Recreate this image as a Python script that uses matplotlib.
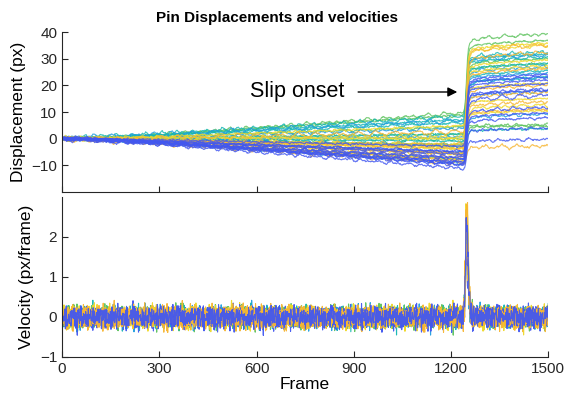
import numpy as np
import matplotlib
matplotlib.use('Agg')
import matplotlib.pyplot as plt

plt.rcParams['font.family'] = ['Liberation Sans', 'DejaVu Sans']

# Colour families seen in the traces (parula-like)
palette = {
    'B': '#4257f0',
    'S': '#1f9de0',
    'T': '#13b6b3',
    'G': '#5cc25c',
    'Y': '#efd92a',
    'O': '#f7b632',
}

# Per-pin values: colour, displacement just before slip
# (frame ~1240) and final displacement (frame 1500), in px
pin_colors = (['G'] * 6 + ['T'] * 7 + ['S'] * 6 + ['Y'] * 8 + ['O'] * 8
              + ['B'] * 12)
pre_slip = [10, 9, 4.5, 1.5, 0, -2,
            8, 7, 6, 2, -1, -3.5, -7.5,
            6.5, 4, 1, -2.5, -5, -9.5,
            5, 0.5, -0.5, -2, -3, -4, -6, -8,
            3, -1.5, -4, -5.5, -6, -7, -8.5, -9,
            -3, -4.5, -5, -6, -6.5, -7, -8, -8.5, -9, -10, -10.5, -11]
final = [39.5, 37, 30, 28, 5.5, 5,
         32, 31.5, 30.5, 28.5, 25.5, 22.5, 4,
         31, 27, 25, 23, 18, 9,
         36, 35, 29, 27.5, 21, 15, 12.5, 10.5,
         35.5, 33, 26, 20, 17, 14, 11, -2.5,
         24, 23.5, 22, 20.5, 19, 18.5, 16.5, 12, 9.5, 7.5, 3.5, 0]

# Pins whose velocity is drawn in the lower panel, in drawing order
vel_pins = [3, 14, 8, 0, 19, 44, 33, 20, 40, 29, 27, 36]

# Common shape of the trajectories (fraction of drift / fraction of jump)
drift_frames = [0, 50, 300, 900, 1240]
drift_frac = [0, 0, 0.18, 0.7, 1]
jump_frames = [0, 1238, 1242, 1245, 1248, 1251, 1254, 1258, 1265, 1300,
               1400, 1500]
jump_frac = [0, 0, 0.05, 0.17, 0.42, 0.67, 0.82, 0.89, 0.92, 0.95, 0.98, 1.0]

# Frame-to-frame velocity jitter of the tracked pins (px/frame), a sample
jitter = [0.12, -0.08, 0.17, -0.15, 0.03, 0.09, -0.19, 0.06, -0.02, 0.14,
          -0.11, 0.2, -0.05, -0.16, 0.08, 0.01, -0.09, 0.28, -0.13, 0.04,
          0.11, -0.2, 0.07, -0.03, 0.15, -0.07, -0.12, 0.1, 0.02, -0.17,
          0.13, -0.04, 0.19, -0.1, 0.05, -0.14, 0.0, 0.16, -0.3, 0.09,
          -0.06, 0.12, -0.01, -0.15, 0.07, 0.14, -0.09, 0.03, -0.12, 0.18,
          -0.07, 0.1, -0.16, 0.04, 0.08, -0.11, 0.15, -0.03, -0.19, 0.11,
          0.06]
strides = [7, 11, 13, 17, 19, 23, 29, 31, 37, 41, 43, 14, 9, 22]

x_ticks = [0, 300, 600, 900, 1200, 1500]
frames = np.arange(0, 1501)

jit_a = np.array(jitter) - np.mean(jitter)
jit_b = np.array(jitter[:47]) - np.mean(jitter[:47])

fig = plt.figure(figsize=(5.64, 4.0), dpi=100)
ax1 = fig.add_axes([0.110, 0.52, 0.862, 0.40])
ax2 = fig.add_axes([0.110, 0.1075, 0.862, 0.40])

velocities = {}
for i, (c, pre, fin) in enumerate(zip(pin_colors, pre_slip, final)):
    trend = (pre * np.interp(frames, drift_frames, drift_frac)
             + (fin - pre) * np.interp(frames, jump_frames, jump_frac))
    s = strides[i % len(strides)]
    f = frames[1:]
    noise = (0.75 * jit_a[(f * s + 5 * i) % len(jit_a)]
             + 0.75 * jit_b[(f * (s + 3) + 3 * i) % len(jit_b)])
    vel = np.diff(trend) + noise
    disp = np.concatenate([[0.0], np.cumsum(vel)])
    velocities[i] = vel
    ax1.plot(frames, disp, color=palette[c], lw=0.8, alpha=0.8)

for i in vel_pins:
    ax2.plot(frames[1:], velocities[i], color=palette[pin_colors[i]],
             lw=0.8, alpha=0.95)

ax1.annotate('', xy=(1228, 17.5), xytext=(905, 17.5),
             arrowprops=dict(arrowstyle='-|>', color='black', lw=1.0,
                             mutation_scale=14))
ax1.text(872, 17.5, 'Slip onset', ha='right', va='center', fontsize=15.5)

ax1.set_ylim(-20, 40)
ax1.set_yticks([-10, 0, 10, 20, 30, 40])
ax1.set_ylabel('Displacement (px)', fontsize=12.5, labelpad=4)
fig.text(0.492, 0.955, 'Pin Displacements and velocities', ha='center',
         va='center', fontsize=11, fontweight='bold')
ax1.set_xticklabels([])

ax2.set_ylim(-1, 3)
ax2.set_yticks([-1, 0, 1, 2])
ax2.set_ylabel('Velocity (px/frame)', fontsize=12.5, labelpad=4)
ax2.set_xlabel('Frame', fontsize=12.5, labelpad=1)

for ax in (ax1, ax2):
    ax.set_xlim(0, 1500)
    ax.set_xticks(x_ticks)
    for side in ('top', 'right'):
        ax.spines[side].set_visible(False)
    for side in ('left', 'bottom'):
        ax.spines[side].set_color('#262626')
        ax.spines[side].set_linewidth(0.8)
    ax.tick_params(direction='in', length=4, width=0.8, colors='#262626',
                   labelsize=11)
ax2.set_xticklabels([str(t) for t in x_ticks])

fig.savefig('out.png', dpi=100, facecolor='white')
